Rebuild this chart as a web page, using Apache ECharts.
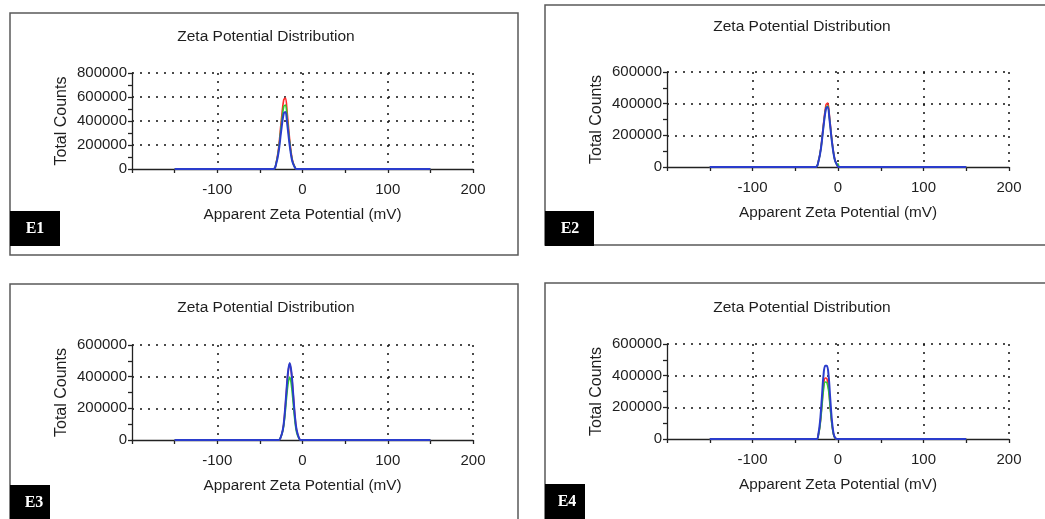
<!DOCTYPE html>
<html>
<head>
<meta charset="utf-8">
<script src="https://cdn.jsdelivr.net/npm/echarts@6/dist/echarts.min.js"></script>
<style>
html,body{margin:0;padding:0;background:#fff;}
#chart{width:1045px;height:519px;}
</style>
</head>
<body>
<div id="chart"></div>
<script>
// ---- data ----
const panelNames = ['E1', 'E2', 'E3', 'E4'];
const chartTitle = 'Zeta Potential Distribution';
const xName = 'Apparent Zeta Potential (mV)';
const yName = 'Total Counts';
const yMaxes = [800000, 600000, 600000, 600000];

const e1X     = [-150, -34, -31, -28, -25, -22, -20, -18, -15, -12, -9, -7, 150];
const e1Red   = [0, 0, 50000, 178000, 397000, 577000, 592000, 474000, 243000, 80000, 17000, 0, 0];
const e1Green = [0, 0, 45000, 160000, 357000, 520000, 533000, 426000, 219000, 72000, 15000, 0, 0];
const e1Blue  = [0, 0, 40000, 143000, 318000, 463000, 475000, 380000, 195000, 64000, 13000, 0, 0];

const e2X     = [-150, -26, -23, -20, -17, -14, -12, -10, -7, -4, -1, 0, 2, 150];
const e2Red   = [0, 0, 34000, 121000, 271000, 394000, 404000, 323000, 166000, 55000, 11000, 3000, 0, 0];
const e2Green = [0, 0, 33000, 116000, 258000, 375000, 385000, 308000, 158000, 52000, 16000, 20000, 0, 0];
const e2Blue  = [0, 0, 32000, 114000, 254000, 370000, 379000, 303000, 155000, 51000, 10000, 3000, 0, 0];

const e3X     = [-150, -28, -26, -23, -21, -19, -17, -15, -13, -11, -9, -7, -4, -2, 150];
const e3Red   = [0, 0, 11000, 65000, 157000, 294000, 424000, 482000, 424000, 294000, 157000, 65000, 11000, 0, 0];
const e3Green = [0, 0, 12000, 60000, 135000, 250000, 352000, 398000, 345000, 238000, 125000, 50000, 8000, 0, 0];
const e3Blue  = [0, 0, 11000, 66000, 158000, 296000, 428000, 486000, 428000, 296000, 158000, 66000, 11000, 0, 0];

const e4X     = [-150, -25, -23, -21, -19, -17, -15, -13, -11, -9, -7, -5, -3, -1, 150];
const e4Red   = [0, 0, 25000, 90000, 205000, 330000, 385000, 380000, 325000, 200000, 90000, 25000, 4000, 0, 0];
const e4Green = [0, 0, 23000, 85000, 192000, 308000, 360000, 355000, 305000, 190000, 85000, 23000, 4000, 0, 0];
const e4Blue  = [0, 0, 30000, 110000, 250000, 400000, 462000, 462000, 400000, 250000, 110000, 30000, 5000, 0, 0];

const xTickLabels = [-100, 0, 100, 200];

// ---- layout ----
const panelData = [
  {x: e1X, r: e1Red, g: e1Green, b: e1Blue},
  {x: e2X, r: e2Red, g: e2Green, b: e2Blue},
  {x: e3X, r: e3Red, g: e3Green, b: e3Blue},
  {x: e4X, r: e4Red, g: e4Green, b: e4Blue}
];
const grids = [
  {left: 132, top: 73, width: 341, height: 96},
  {left: 667, top: 72, width: 342, height: 95},
  {left: 132, top: 345, width: 341, height: 95},
  {left: 667, top: 344, width: 342, height: 95}
];
const titlePos = [{x: 266, y: 29}, {x: 802, y: 19}, {x: 266, y: 300}, {x: 802, y: 300}];
const frames = [
  {x: 10, y: 13, w: 508, h: 242},
  {x: 545, y: 5, w: 520, h: 240},
  {x: 10, y: 284, w: 508, h: 260},
  {x: 545, y: 283, w: 520, h: 260}
];
const boxes = [
  {x: 10, y: 211, w: 50, h: 35, tx: 35, ty: 229},
  {x: 545, y: 211, w: 49, h: 35, tx: 570, ty: 229},
  {x: 10, y: 485, w: 40, h: 40, tx: 34, ty: 503},
  {x: 545, y: 484, w: 40, h: 40, tx: 567, ty: 502}
];

const FONT = 'Liberation Sans, Arial, sans-serif';
const TXT = '#1e1e1e';
const colors = {r: '#ff2a2a', g: '#2fcc2f', b: '#2a3ccc'};

const gridLine = {show: true, showMinLine: false, lineStyle: {type: [2, 6], color: '#111', width: 1.5}};
const axLine = {color: '#222', width: 1.3};

const option = {
  animation: false,
  backgroundColor: '#fff',
  title: panelNames.map((n, i) => ({
    text: chartTitle,
    left: titlePos[i].x,
    top: titlePos[i].y,
    textAlign: 'center',
    padding: 0,
    textStyle: {fontSize: 15.5, fontWeight: 'normal', color: TXT, fontFamily: FONT}
  })),
  grid: grids.map(g => Object.assign({containLabel: false}, g)),
  xAxis: panelNames.map((n, i) => ({
    type: 'value', gridIndex: i, min: -200, max: 200, interval: 100,
    name: xName, nameLocation: 'middle', nameGap: 38,
    nameTextStyle: {fontSize: 15.3, color: TXT, fontFamily: FONT},
    axisLine: {show: true, onZero: false, lineStyle: axLine},
    axisTick: {show: true, length: 4, lineStyle: axLine},
    minorTick: {show: true, splitNumber: 2, length: 4, lineStyle: axLine},
    axisLabel: {
      fontSize: 15, color: TXT, fontFamily: FONT, margin: 13,
      formatter: v => (xTickLabels.indexOf(v) >= 0 ? String(v) : '')
    },
    splitLine: gridLine,
    z: 5
  })),
  yAxis: panelNames.map((n, i) => ({
    type: 'value', gridIndex: i, min: 0, max: yMaxes[i], interval: 200000,
    name: yName, nameLocation: 'middle', nameGap: 62, nameRotate: 90,
    nameTextStyle: {fontSize: 16, color: TXT, fontFamily: FONT},
    axisLine: {show: true, onZero: false, lineStyle: axLine},
    axisTick: {show: true, length: 4, lineStyle: axLine},
    minorTick: {show: true, splitNumber: 2, length: 4, lineStyle: axLine},
    axisLabel: {fontSize: 15, color: TXT, fontFamily: FONT, margin: 5, formatter: v => String(v)},
    splitLine: gridLine,
    z: 5
  })),
  series: [],
  graphic: []
};

panelData.forEach((p, i) => {
  ['r', 'g', 'b'].forEach(k => {
    option.series.push({
      type: 'line', xAxisIndex: i, yAxisIndex: i,
      data: p.x.map((xv, j) => [xv, p[k][j]]),
      showSymbol: false, symbol: 'none', smooth: 0.35,
      lineStyle: {color: colors[k], width: k === 'b' ? 2 : 1.6},
      z: 6
    });
  });
});

frames.forEach(f => {
  option.graphic.push({
    type: 'rect', shape: {x: f.x, y: f.y, width: f.w, height: f.h},
    style: {fill: 'none', stroke: '#5a5a5a', lineWidth: 1.5}, z: 10
  });
});
boxes.forEach((b, i) => {
  option.graphic.push({
    type: 'rect', shape: {x: b.x, y: b.y, width: b.w, height: b.h},
    style: {fill: '#000'}, z: 11
  });
  option.graphic.push({
    type: 'text', x: b.tx, y: b.ty,
    style: {text: panelNames[i], fill: '#fff', font: 'bold 16px "Liberation Serif", "DejaVu Serif", serif',
            textAlign: 'center', textVerticalAlign: 'middle'}, z: 12
  });
});

const chart = echarts.init(document.getElementById('chart'), null, {renderer: 'canvas'});
chart.setOption(option);
</script>
</body>
</html>
